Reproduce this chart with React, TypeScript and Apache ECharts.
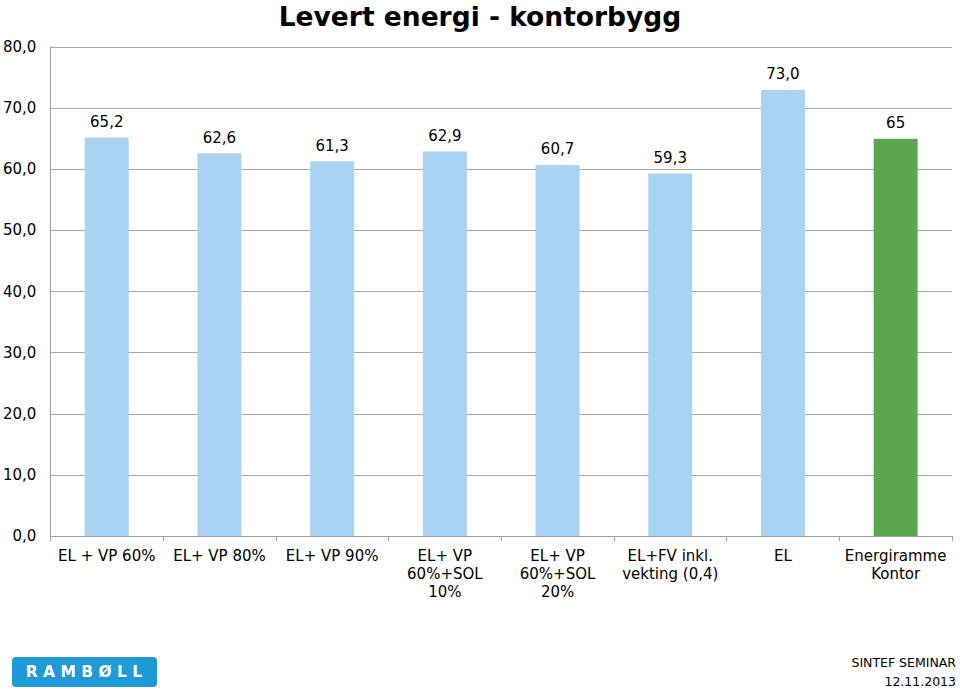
import React, { useEffect, useRef } from "react";
import * as echarts from "echarts";

const titleText = "Levert energi - kontorbygg";
const categories = [
  "EL + VP 60%",
  "EL+ VP 80%",
  "EL+ VP 90%",
  "EL+ VP\n60%+SOL\n10%",
  "EL+ VP\n60%+SOL\n20%",
  "EL+FV inkl.\nvekting (0,4)",
  "EL",
  "Energiramme\nKontor",
];
const values = [65.2, 62.6, 61.3, 62.9, 60.7, 59.3, 73.0, 65];
const labelDecimals = [1, 1, 1, 1, 1, 1, 1, 0];
const barColors = [
  "#a8d3f3",
  "#a8d3f3",
  "#a8d3f3",
  "#a8d3f3",
  "#a8d3f3",
  "#a8d3f3",
  "#a8d3f3",
  "#5ca64f",
];
const yMin = 0;
const yMax = 80;
const yInterval = 10;
const logoText = "R A M B Ø L L";
const footerLines = ["SINTEF SEMINAR", "12.11.2013"];

const FONT = "'DejaVu Sans', Verdana, sans-serif";

export default function App() {
  const ref = useRef<HTMLDivElement>(null);
  useEffect(() => {
    if (!ref.current) return;
    const chart = echarts.init(ref.current, null, { renderer: "svg" });
    chart.setOption({
      animation: false,
      backgroundColor: "#ffffff",
      textStyle: { fontFamily: FONT },
      title: {
        text: titleText,
        left: "center",
        top: 0,
        padding: [2, 0, 0, 0],
        textStyle: {
          fontFamily: FONT,
          fontSize: 26.5,
          lineHeight: 28,
          fontWeight: "bold",
          color: "#000",
        },
      },
      grid: { left: 50, right: 8, top: 47, bottom: 155, containLabel: false },
      xAxis: {
        type: "category",
        data: categories,
        axisLine: { show: true, lineStyle: { color: "#a0a0a0", width: 1 } },
        axisTick: { show: true, length: 5, lineStyle: { color: "#a0a0a0" } },
        axisLabel: {
          interval: 0,
          margin: 11,
          fontFamily: FONT,
          fontSize: 15,
          lineHeight: 18,
          color: "#000",
        },
      },
      yAxis: {
        type: "value",
        min: yMin,
        max: yMax,
        interval: yInterval,
        axisLine: { show: true, lineStyle: { color: "#a0a0a0", width: 1 } },
        axisTick: { show: false },
        splitLine: { show: true, lineStyle: { color: "#a6a6a6", width: 1 } },
        axisLabel: {
          margin: 14,
          fontFamily: FONT,
          fontSize: 15,
          color: "#000",
          formatter: (v: number) => v.toFixed(1).replace(".", ","),
        },
      },
      series: [
        {
          type: "bar",
          barWidth: 44,
          data: values.map((v, i) => ({
            value: v,
            itemStyle: { color: barColors[i] },
          })),
          label: {
            show: true,
            position: "top",
            distance: 8,
            fontFamily: FONT,
            fontSize: 15,
            color: "#000",
            formatter: (p: any) =>
              (p.value as number).toFixed(labelDecimals[p.dataIndex]).replace(".", ","),
          },
        },
      ],
      graphic: [
        {
          type: "group",
          left: 12,
          top: 657,
          children: [
            {
              type: "rect",
              shape: { x: 0, y: 0, width: 145, height: 30, r: 4 },
              style: { fill: "#1e9ad8" },
            },
            {
              type: "text",
              x: 72,
              y: 15,
              style: {
                text: logoText,
                fill: "#ffffff",
                fontFamily: FONT,
                fontSize: 15.5,
                fontWeight: "bold",
                align: "center",
                verticalAlign: "middle",
              },
            },
          ],
        },
        {
          type: "text",
          right: 4,
          top: 656,
          style: {
            text: footerLines[0],
            fill: "#000",
            fontFamily: FONT,
            fontSize: 12.5,
            align: "right",
          },
        },
        {
          type: "text",
          right: 4,
          top: 675,
          style: {
            text: footerLines[1],
            fill: "#000",
            fontFamily: FONT,
            fontSize: 12.5,
            align: "right",
          },
        },
      ],
    });
    return () => chart.dispose();
  }, []);
  return (
    <div
      ref={ref}
      style={{ position: "fixed", left: 0, top: 0, width: 960, height: 691 }}
    />
  );
}
